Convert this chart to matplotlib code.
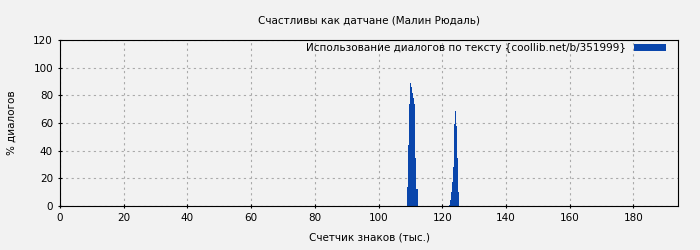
import matplotlib
matplotlib.use("Agg")
import matplotlib.pyplot as plt

# позиции столбиков (тыс. знаков) и доля диалогов, %
pos_1 = [109.0, 109.3, 109.6, 109.9, 110.2, 110.5, 110.8, 111.2, 111.5, 111.8, 112.1]
val_1 = [14, 44, 74, 89, 86, 82, 78, 74, 35, 12, 12]
pos_2 = [122.1, 122.4, 122.8, 123.1, 123.4, 123.7, 124.0, 124.3, 124.6, 125.0]
val_2 = [1, 4, 10, 17, 28, 59, 69, 58, 35, 10]

title = "Счастливы как датчане (Малин Рюдаль)"
legend_label = "Использование диалогов по тексту {coollib.net/b/351999}"
xticks = list(range(0, 181, 20))
yticks = list(range(0, 121, 20))

bg = "#f2f2f2"
bar_color = "#0a46ac"

fig = plt.figure(figsize=(7, 2.5), dpi=100, facecolor=bg)
ax = fig.add_axes([0.0857, 0.176, 0.883, 0.664], facecolor=bg)

ax.bar(pos_1 + pos_2, val_1 + val_2, width=0.33, color=bar_color,
       linewidth=0, label=legend_label, align="edge")

ax.set_xlim(0, 194)
ax.set_ylim(0, 120)
ax.set_xticks(xticks)
ax.set_yticks(yticks)
ax.tick_params(labelsize=7.5, length=3, direction="inout")
ax.grid(True, color="#aaaaaa", linestyle=(0, (2, 3)), linewidth=0.8)
ax.set_axisbelow(True)

ax.set_title(title, fontsize=7.5, pad=12)
ax.set_xlabel("Счетчик знаков (тыс.)", fontsize=7.5, labelpad=7)
ax.set_ylabel("% диалогов", fontsize=7.5, labelpad=12)

ax.legend(loc="upper right", bbox_to_anchor=(0.995, 1.036), fontsize=7.5,
          frameon=False, handlelength=3.0, handleheight=0.6,
          borderaxespad=0.5, handletextpad=0.8, markerfirst=False)

fig.savefig("out.png", dpi=100, facecolor=bg)
